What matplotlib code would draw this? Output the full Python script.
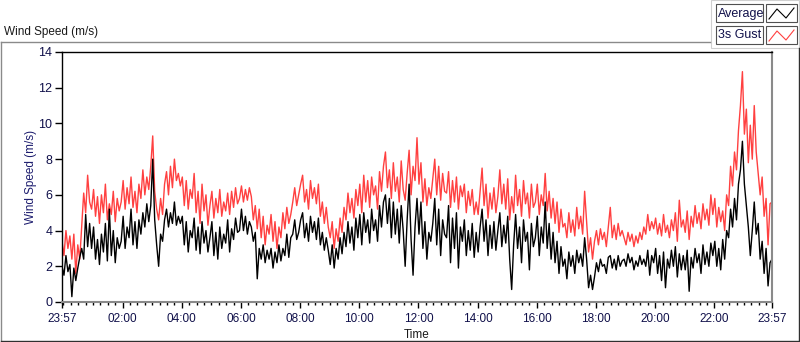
import matplotlib
matplotlib.use('Agg')
import matplotlib.pyplot as plt
import matplotlib.dates as mdates
from matplotlib.lines import Line2D
from matplotlib.patches import Rectangle
from datetime import datetime, timedelta

plt.rcParams['font.family'] = ['Liberation Sans', 'DejaVu Sans']

# ---------------- data (4-minute samples, 23:57 -> 23:57 next day) ----------------
start_time = datetime(2020, 1, 1, 23, 57)
step_minutes = 4

gust = [
    3.4, 2.6, 4.0, 3.0, 3.7, 2.4, 3.8, 1.6, 3.2, 2.4, 4.3, 6.1, 5.0, 7.1, 5.6,
    5.2, 6.3, 4.8, 5.9, 4.4, 6.0, 5.0, 6.6, 4.6, 5.5, 4.9, 6.2, 4.5, 5.8, 5.1,
    5.6, 6.8, 5.2, 6.4, 5.5, 7.0, 5.3, 6.2, 5.0, 6.6, 5.8, 7.4, 6.0, 7.0, 6.3,
    7.6, 9.3, 6.2, 5.2, 4.6, 5.8, 4.9, 6.6, 7.3, 6.0, 7.6, 6.4, 8.0, 6.8, 7.2,
    6.5, 7.0, 5.4, 6.8, 5.2, 6.3, 5.8, 7.2, 5.0, 6.2, 4.4, 6.6, 5.1, 6.0, 4.3,
    5.4, 6.2, 4.7, 5.8, 5.0, 6.3, 4.8, 5.6, 5.1, 6.1, 4.9, 6.2, 5.3, 6.4, 5.5,
    5.8, 6.5, 5.6, 6.3, 5.7, 6.4, 5.9, 4.6, 5.4, 4.1, 5.2, 3.6, 4.8, 3.2, 4.3,
    3.8, 4.9, 3.4, 4.5, 3.0, 4.2, 3.6, 5.0, 4.1, 5.3, 4.4, 4.9, 5.6, 6.4, 5.4,
    6.0, 6.6, 7.1, 5.6, 6.3, 5.2, 6.8, 5.8, 6.4, 5.5, 6.6, 4.8, 5.6, 4.4, 5.3,
    4.2, 3.6, 4.5, 3.0, 4.1, 3.4, 4.7, 3.9, 5.3, 4.6, 6.1, 5.0, 5.8, 4.7, 6.3,
    5.4, 6.6, 5.0, 7.1, 5.6, 6.8, 5.3, 7.0, 6.0, 6.5, 5.2, 7.3, 6.2, 7.6, 8.4,
    6.4, 7.4, 5.8, 7.8, 6.2, 7.0, 5.6, 7.9, 6.3, 5.7, 7.2, 8.5, 6.0, 7.6, 6.8,
    9.2, 6.6, 7.8, 5.6, 6.9, 5.4, 6.4, 5.8, 6.9, 8.0, 6.0, 7.6, 5.7, 7.2, 6.2,
    6.1, 7.3, 5.3, 6.8, 5.6, 7.0, 5.2, 6.5, 5.9, 6.6, 5.0, 6.2, 5.4, 6.3, 4.9,
    5.6, 4.9, 6.2, 7.5, 5.4, 6.6, 4.7, 6.1, 5.2, 6.4, 5.0, 5.9, 7.4, 5.5, 6.6,
    5.2, 6.9, 4.6, 5.9, 5.0, 7.1, 5.4, 6.3, 4.8, 6.8, 5.5, 6.1, 4.7, 6.6, 5.3,
    5.6, 6.6, 4.9, 6.0, 5.4, 7.2, 5.1, 6.2, 4.7, 5.8, 4.4, 5.6, 3.9, 5.2, 4.2,
    4.4, 3.6, 5.0, 3.9, 4.6, 3.7, 5.3, 4.1, 4.8, 3.8, 6.2, 4.5, 2.8, 3.6, 2.4,
    3.4, 4.0, 3.2, 4.1, 3.5, 3.9, 3.1, 4.2, 5.3, 3.6, 4.3, 3.5, 4.4, 3.7, 4.0,
    3.6, 3.2, 3.9, 3.4, 3.8, 3.1, 3.7, 3.3, 3.9, 3.5, 4.2, 3.8, 4.9, 4.0, 4.5,
    4.1, 4.7, 3.8, 4.4, 3.7, 4.9, 3.9, 4.3, 3.6, 4.6, 4.0, 5.0, 3.4, 5.7, 4.2,
    4.6, 3.9, 5.1, 3.5, 4.8, 4.2, 5.4, 4.4, 5.0, 4.1, 5.5, 4.6, 5.2, 4.3, 6.0,
    4.9, 5.8, 4.2, 5.3, 4.5, 5.1, 4.0, 6.0, 5.4, 7.6, 6.5, 8.4, 7.4, 9.6, 11.0,
    12.9, 9.4, 10.8, 7.8, 9.9, 8.0, 11.0, 8.4, 7.2, 6.0, 7.0, 4.8, 5.8, 3.2, 5.5,
    5.6,
]

average = [
    2.0, 1.5, 2.6, 1.7, 2.1, 0.3, 1.9, 1.2, 1.9, 2.5, 3.0, 2.4, 4.9, 3.1, 4.4,
    3.0, 4.2, 2.4, 3.5, 2.1, 3.8, 2.8, 4.4, 2.3, 5.2, 2.6, 4.0, 2.2, 3.6, 3.0,
    3.4, 4.8, 3.0, 4.2, 3.6, 5.2, 3.2, 4.5, 3.0, 4.6, 3.8, 5.0, 4.2, 5.5, 4.5,
    5.4, 8.0, 4.6, 3.2, 2.0, 3.8, 3.4, 4.6, 5.2, 4.2, 5.0, 4.4, 5.6, 4.3, 4.8,
    4.4, 4.8, 3.2, 4.5, 2.8, 4.0, 3.6, 4.7, 2.9, 4.2, 2.7, 4.5, 3.3, 4.0, 2.8,
    3.6, 4.5, 2.6, 3.9, 2.4, 4.2, 3.0, 3.8, 3.3, 4.6, 2.8, 4.1, 3.5, 4.7, 3.9,
    4.0, 5.2, 4.0, 4.8, 3.8, 4.5, 4.2, 3.4, 3.9, 1.3, 3.0, 2.4, 3.2, 2.2, 2.9,
    2.4, 3.0, 1.9, 2.8, 2.2, 3.2, 2.3, 3.0, 2.6, 3.8, 2.5, 3.6, 3.8, 4.6, 3.5,
    3.9, 4.6, 5.0, 3.6, 4.4, 3.4, 4.8, 3.9, 4.5, 3.5, 4.7, 3.2, 3.9, 2.9, 3.6,
    2.9, 2.1, 3.2, 1.9, 3.0, 2.4, 3.6, 2.7, 3.9, 3.1, 4.5, 3.3, 4.2, 2.9, 4.7,
    3.6, 4.9, 3.2, 5.0, 3.9, 4.6, 3.3, 5.2, 4.0, 4.6, 3.4, 5.4, 4.2, 5.6, 6.0,
    4.4, 5.8, 3.6, 5.6, 3.8, 5.2, 3.3, 5.4, 4.0, 2.0, 4.6, 6.6, 3.5, 1.5, 4.2,
    5.8, 3.8, 5.6, 3.0, 4.5, 2.4, 3.9, 3.4, 4.4, 5.8, 3.2, 5.2, 2.6, 4.6, 3.8,
    3.6, 5.4, 2.2, 4.7, 3.0, 5.0, 1.9, 4.2, 3.4, 4.6, 2.6, 4.0, 2.9, 4.4, 2.5,
    3.9, 2.8, 4.2, 5.2, 3.4, 4.6, 2.6, 4.3, 3.0, 4.5, 2.9, 4.0, 5.0, 3.1, 4.3,
    3.3, 4.8, 2.4, 0.7, 3.2, 4.9, 3.0, 4.2, 2.2, 4.6, 3.4, 3.9, 1.8, 4.4, 3.1,
    3.6, 4.8, 2.6, 4.2, 3.3, 5.6, 3.0, 4.4, 2.4, 3.9, 2.2, 3.4, 1.6, 3.1, 2.0,
    2.4, 1.3, 2.8, 2.0, 2.6, 1.6, 2.9, 2.2, 2.7, 2.0, 3.6, 2.4, 0.8, 1.5, 0.7,
    1.4, 2.2, 1.7, 2.4, 2.0, 2.1, 1.6, 2.5, 2.6, 1.9, 2.4, 1.8, 2.6, 2.0, 2.3,
    2.4, 2.0, 2.7, 2.2, 2.5, 1.8, 2.3, 2.0, 2.6, 2.1, 2.4, 2.0, 2.9, 1.5, 2.6,
    2.2, 3.0, 1.6, 2.6, 1.2, 2.8, 0.8, 2.4, 1.9, 2.9, 2.0, 3.1, 1.4, 2.7, 1.8,
    2.6, 1.8, 2.9, 0.6, 2.5, 1.9, 3.0, 2.2, 2.7, 1.6, 3.2, 2.1, 2.8, 2.0, 3.3,
    2.6, 3.4, 2.0, 3.0, 1.8, 3.5, 2.4, 4.0, 3.6, 5.2, 4.2, 5.8, 4.6, 6.6, 7.4,
    9.0, 6.6, 5.4, 4.2, 2.6, 4.0, 5.6, 3.8, 4.4, 2.4, 3.4, 1.6, 3.0, 0.9, 2.2,
    2.4,
]

y_ticks = [0, 2, 4, 6, 8, 10, 12, 14]
x_tick_times = ['23:57', '02:00', '04:00', '06:00', '08:00', '10:00', '12:00',
                '14:00', '16:00', '18:00', '20:00', '22:00', '23:57']

times = [start_time + timedelta(minutes=step_minutes * i) for i in range(len(gust))]
end_time = start_time + timedelta(hours=24)

# ---------------- figure ----------------
W, H = 800, 342
fig = plt.figure(figsize=(W / 100, H / 100), dpi=100)
fig.patch.set_facecolor('white')

def fx(x):
    return x / W

def fy(y):
    return 1 - y / H

# outer frame
frame_col = '#8a8a8a'
fig.add_artist(Line2D([fx(0.5), fx(710)], [fy(42), fy(42)], color=frame_col, lw=1.0))
fig.add_artist(Line2D([fx(0.5), fx(0.5)], [fy(42), fy(341)], color=frame_col, lw=1.0))
fig.add_artist(Line2D([fx(0.5), fx(799)], [fy(340.5), fy(340.5)], color='#303030', lw=1.0))
fig.add_artist(Line2D([fx(798.5), fx(798.5)], [fy(48), fy(341)], color='#303030', lw=1.0))
# legend panel
fig.add_artist(Rectangle((fx(711), fy(48)), fx(88), 48 / H, transform=fig.transFigure,
                         facecolor='white', edgecolor='#d0d0d0', lw=0.8))

fig.text(fx(4), fy(32), 'Wind Speed (m/s)', fontsize=8.5, color='#1a1a1a',
         ha='left', va='center')

# legend entries
leg_items = [('Average', 'black', 4), ('3s Gust', '#ff4040', 26)]
for label, col, top in leg_items:
    fig.add_artist(Rectangle((fx(715.5), fy(top + 18)), fx(47), 18 / H,
                             transform=fig.transFigure, facecolor='white',
                             edgecolor='#505050', lw=0.8))
    fig.text(fx(717.5), fy(top + 9.5), label, fontsize=9, color='#10104a',
             ha='left', va='center')
    fig.add_artist(Rectangle((fx(766), fy(top + 18)), fx(31), 18 / H,
                             transform=fig.transFigure, facecolor='white',
                             edgecolor='#505050', lw=0.8))
    fig.add_artist(Line2D([fx(769), fx(777), fx(786), fx(794)],
                          [fy(top + 15), fy(top + 5), fy(top + 14), fy(top + 4)],
                          color=col, lw=0.8))

# plot area
ax = fig.add_axes([fx(62), fy(302), fx(710), 250 / H])
ax.plot(times, gust, color='#ff4040', lw=1.0)
ax.plot(times, average, color='black', lw=1.0)

ax.set_xlim(start_time, end_time)
ax.set_ylim(0, 14)
ax.set_yticks(y_ticks)
ax.set_yticklabels([str(v) for v in y_ticks])

major_locs = [start_time]
for lbl in x_tick_times[1:-1]:
    hh, mm = map(int, lbl.split(':'))
    major_locs.append(datetime(2020, 1, 2, hh, mm))
major_locs.append(end_time)
ax.set_xticks(major_locs)
ax.set_xticklabels(x_tick_times)
ax.xaxis.set_minor_locator(mdates.MinuteLocator(byminute=[0, 15, 30, 45]))

ax.tick_params(axis='y', which='major', length=5, width=1, pad=2, direction='out',
               labelsize=9, labelcolor='#10104a', color='black')
ax.tick_params(axis='x', which='major', length=4, width=1, pad=4, direction='out',
               labelsize=8.5, labelcolor='#10104a', color='black')
ax.tick_params(axis='x', which='minor', length=2.5, width=1, direction='out', color='black')

for side in ['left', 'top']:
    ax.spines[side].set_color('black')
    ax.spines[side].set_linewidth(1.0)
for side in ['right', 'bottom']:
    ax.spines[side].set_color('#8a8a8a')
    ax.spines[side].set_linewidth(1.5)

ax.set_ylabel('Wind Speed (m/s)', fontsize=8.5, color='#1c1c6e', labelpad=1)
ax.set_xlabel('Time', fontsize=8.5, color='#1a1a1a', labelpad=3)

fig.savefig('out.png', dpi=100)
